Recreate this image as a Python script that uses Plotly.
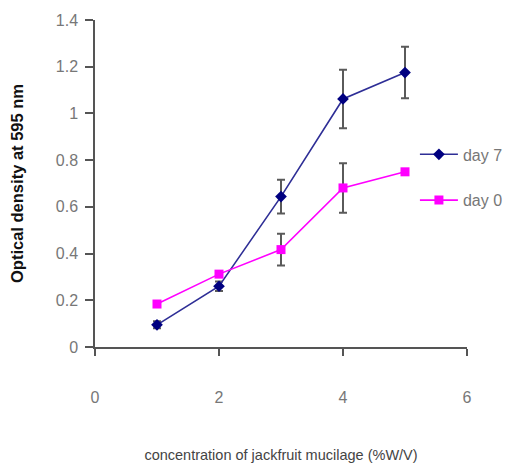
import plotly.graph_objects as go

# Mucilage concentration (%W/V)
concentration = [1, 2, 3, 4, 5]

# Optical density at 595 nm with standard deviations
day7_od = [0.095, 0.26, 0.644, 1.062, 1.175]
day7_sd = [0.015, 0.02, 0.072, 0.125, 0.11]
day0_od = [0.184, 0.312, 0.417, 0.681, 0.75]
day0_sd = [0.01, 0.01, 0.068, 0.106, 0.005]

x_ticks = [0, 2, 4, 6]
y_ticks = [0, 0.2, 0.4, 0.6, 0.8, 1, 1.2, 1.4]
y_tick_labels = ["0", "0.2", "0.4", "0.6", "0.8", "1", "1.2", "1.4"]

FONT = "Liberation Sans, Arial, sans-serif"
ERR = dict(type="data", visible=True, color="#5a5a5a", thickness=2, width=4)

fig = go.Figure()
fig.add_trace(go.Scatter(
    x=concentration, y=day7_od, name="day 7", mode="lines+markers",
    line=dict(color="#2e2e96", width=1.6),
    marker=dict(symbol="diamond", size=9, color="#000080"),
    error_y=dict(array=day7_sd, **ERR),
    legendgroup="a",
))
fig.add_trace(go.Scatter(
    x=concentration, y=day0_od, name="day 0", mode="lines+markers",
    line=dict(color="#ff00ff", width=1.6),
    marker=dict(symbol="square", size=9, color="#ff00ff"),
    error_y=dict(array=day0_sd, **ERR),
    legendgroup="b",
))

fig.update_layout(
    width=505, height=463,
    margin=dict(l=95, r=38, t=20, b=116, autoexpand=False),
    paper_bgcolor="white", plot_bgcolor="white",
    font=dict(family=FONT, size=16, color="#777777"),
    showlegend=True,
    legend=dict(
        x=0.86, y=0.641, xanchor="left", yanchor="top",
        bgcolor="rgba(0,0,0,0)", tracegroupgap=22, itemwidth=38,
        font=dict(size=16, color="#777777"),
    ),
    xaxis=dict(
        range=[0, 6], tickvals=x_ticks, ticks="outside", ticklen=7,
        tickcolor="#555555", tickwidth=1.5,
        showline=True, linecolor="#555555", linewidth=1.5,
        showgrid=False, zeroline=False, ticklabelstandoff=28,
        automargin=False,
        title=dict(text="concentration of jackfruit mucilage (%W/V)",
                   font=dict(size=14.5, color="#444444"), standoff=48),
    ),
    yaxis=dict(
        range=[0, 1.4], tickvals=y_ticks, ticktext=y_tick_labels,
        ticks="outside", ticklen=8, tickcolor="#555555", tickwidth=1.5,
        showline=True, linecolor="#555555", linewidth=1.5,
        showgrid=False, zeroline=False, ticklabelstandoff=4,
        automargin=False,
        title=dict(text="Optical density at 595 nm",
                   font=dict(size=16.5, color="#111111", weight="bold"),
                   standoff=28),
    ),
)

fig.write_html("out.html")
